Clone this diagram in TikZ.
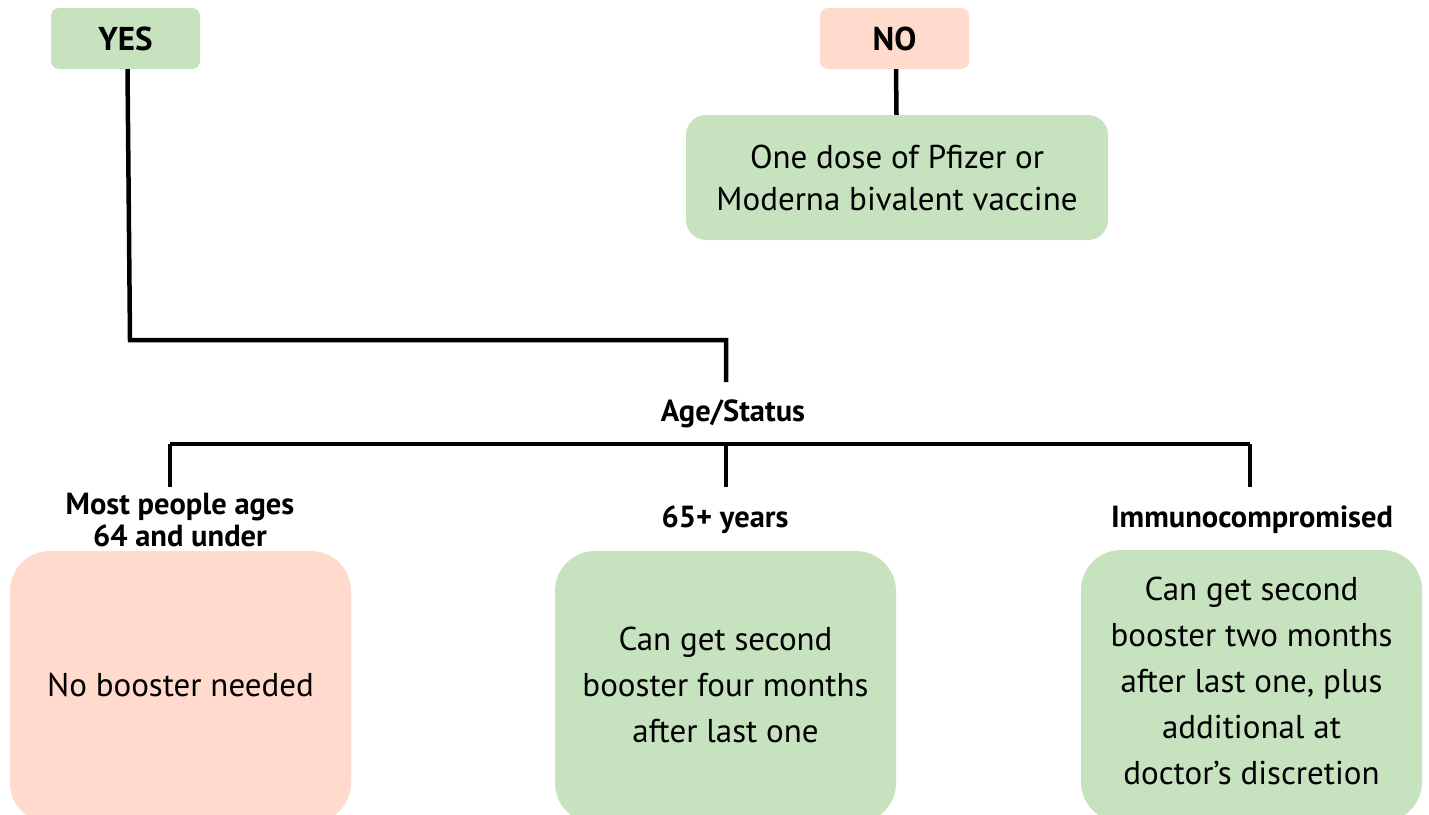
\documentclass[tikz,border=0pt]{standalone}
\usepackage{fontspec}
\setmainfont{PT Sans}
\definecolor{boxgreen}{HTML}{C6E2BF}
\definecolor{boxpink}{HTML}{FFDACD}
\begin{document}
\begin{tikzpicture}[x=1pt,y=-1pt,
  tag/.style={rounded corners=8pt, inner sep=0pt, font=\fontsize{33}{36}\selectfont\bfseries},
  body/.style={rounded corners=40pt, inner sep=0pt, align=center},
  bodytext/.style={inner sep=0pt, align=center, font=\fontsize{33}{46}\selectfont},
  lbl/.style={inner sep=0pt, align=center, font=\fontsize{30.5}{32}\selectfont\bfseries},
  conn/.style={line width=4.5pt}]
\useasboundingbox (0,0) rectangle (1429,814);
\clip (0,0) rectangle (1429,814);
% top tags
\node[tag, fill=boxgreen, minimum width=149pt, minimum height=61pt] (yes) at (125.5,38.5) {YES};
\node[tag, fill=boxpink, minimum width=149pt, minimum height=61pt] (no) at (894.5,38.5) {NO};
\node[body, rounded corners=20pt, fill=boxgreen, minimum width=422pt, minimum height=125pt] (dose) at (897,177.5) {};
\node[bodytext, font=\fontsize{33}{42}\selectfont] (dosetext) at (dose.center) {One dose of Pfizer or\\Moderna bivalent vaccine};
% age status
\node[lbl] (age) at (733,414) {Age/Status};
\coordinate (corner) at (130,340);
\coordinate (ageTop) at (726,382);
\coordinate (barL) at (170,444);
\coordinate (barM) at (726,444);
\coordinate (barR) at (1250,444);
\coordinate (endL) at (170,487);
\coordinate (endM) at (726,487);
\coordinate (endR) at (1250,487);
% labels
\node[lbl] (l1) at (180,520) {Most people ages\\64 and under};
\node[lbl] (l2) at (725,520) {65+ years};
\node[lbl] (l3) at (1252,520) {Immunocompromised};
% bottom boxes
\node[body, fill=boxpink, minimum width=341pt, minimum height=272pt] (b1) at (180.5,687) {};
\node[bodytext] (t1) at (180.5,685) {No booster needed};
\node[body, fill=boxgreen, minimum width=341pt, minimum height=272pt] (b2) at (725.5,687) {};
\node[bodytext] (t2) at (725.5,685) {Can get second\\booster four months\\after last one};
\node[body, fill=boxgreen, minimum width=341pt, minimum height=272pt] (b3) at (1251.5,686) {};
\node[bodytext] (t3) at (1251.5,681) {Can get second\\booster two months\\after last one, plus\\additional at\\doctor’s discretion};
% connectors
\draw[conn] ([xshift=2pt]yes.south) -- (corner) -- (corner -| ageTop) -- (ageTop);
\draw[conn] ([xshift=1.5pt]no.south) -- ([xshift=-0.5pt]dose.north);
\draw[conn] (barL) -- (barR);
\draw[conn] (barL) -- (endL);
\draw[conn] (barM) -- (endM);
\draw[conn] (barR) -- (endR);
\end{tikzpicture}
\end{document}
